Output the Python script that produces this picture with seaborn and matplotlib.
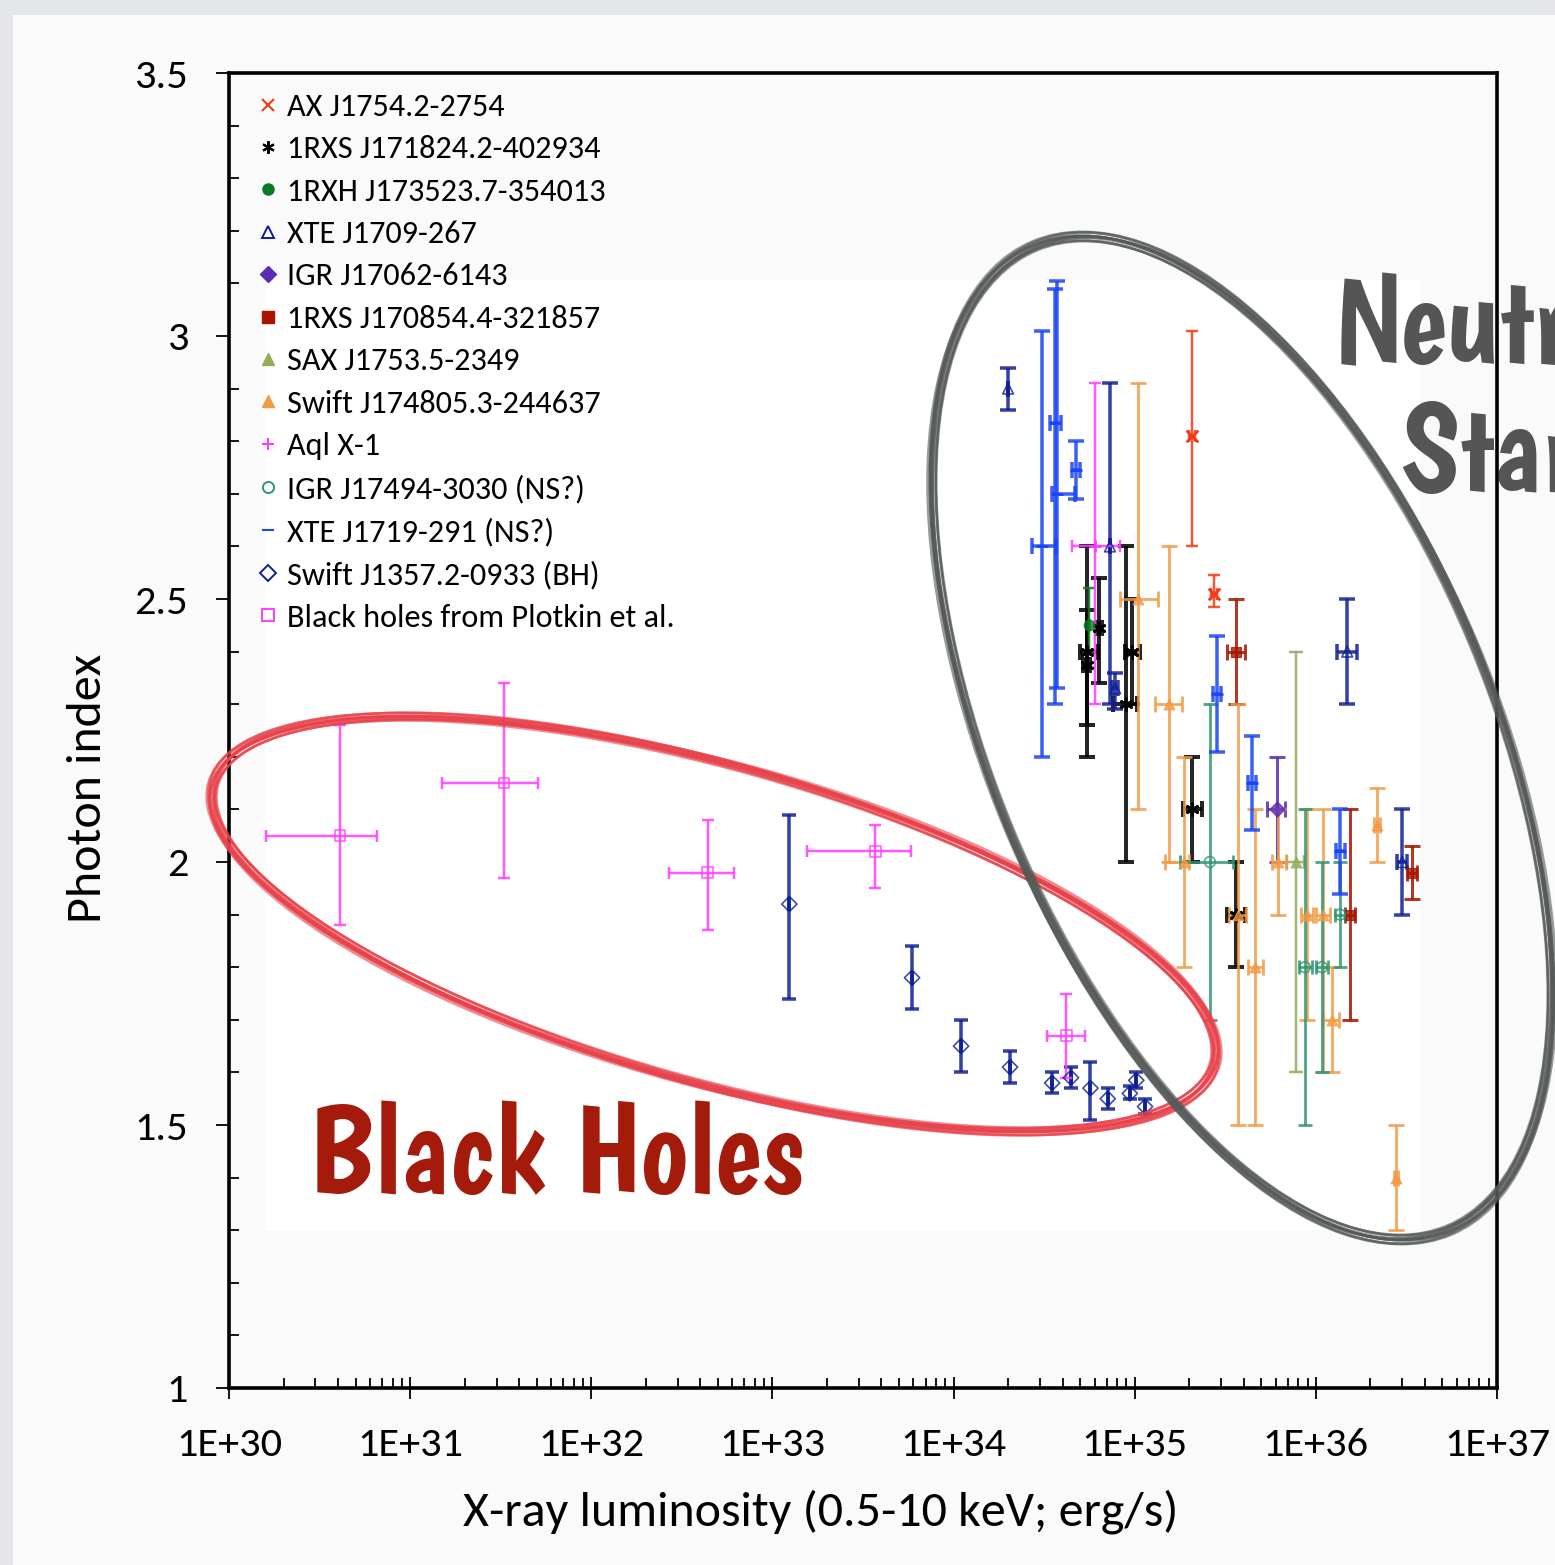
import numpy as np
import pandas as pd
import matplotlib
matplotlib.use("Agg")
import matplotlib.pyplot as plt
from matplotlib.patches import Ellipse, Rectangle
from matplotlib.transforms import IdentityTransform
from matplotlib.lines import Line2D
from matplotlib.ticker import FixedLocator, FixedFormatter, MultipleLocator, LogLocator, NullFormatter
import seaborn as sns

# Rows: (L, L_lo, L_hi, Gamma, Gamma_lo, Gamma_hi); L in erg/s (0.5-10 keV)
ax_j1754 = [
    (2.07e35, 2.00e35, 2.15e35, 2.81, 2.60, 3.01),
    (2.74e35, 2.65e35, 2.85e35, 2.51, 2.485, 2.545),
]
rxs_j171824 = [
    (5.46e34, 5.00e34, 6.30e34, 2.40, 2.20, 2.60),
    (5.46e34, 5.20e34, 5.70e34, 2.375, 2.26, 2.48),
    (6.35e34, 6.10e34, 6.60e34, 2.445, 2.34, 2.54),
    (8.95e34, 7.60e34, 1.03e35, 2.30, 2.00, 2.60),
    (9.66e34, 8.83e34, 1.07e35, 2.40, 2.30, 2.50),
    (2.07e35, 1.85e35, 2.35e35, 2.10, 2.00, 2.20),
    (3.62e35, 3.24e35, 4.06e35, 1.90, 1.80, 2.00),
]
rxh_j173523 = [
    (5.60e34, 5.60e34, 5.60e34, 2.45, 2.40, 2.52),
]
xte_j1709 = [
    (2.00e34, 2.00e34, 2.00e34, 2.90, 2.86, 2.94),
    (7.30e34, 7.30e34, 7.30e34, 2.60, 2.30, 2.91),
    (7.80e34, 7.50e34, 8.10e34, 2.33, 2.29, 2.36),
    (1.49e36, 1.31e36, 1.69e36, 2.40, 2.30, 2.50),
    (3.00e36, 2.80e36, 3.20e36, 2.00, 1.90, 2.10),
]
igr_j17062 = [
    (6.10e35, 5.37e35, 6.76e35, 2.10, 2.00, 2.20),
]
rxs_j170854 = [
    (3.62e35, 3.24e35, 4.06e35, 2.40, 2.30, 2.50),
    (1.54e36, 1.45e36, 1.65e36, 1.90, 1.70, 2.10),
    (3.40e36, 3.20e36, 3.60e36, 1.98, 1.93, 2.03),
]
sax_j1753 = [
    (7.76e35, 6.93e35, 8.61e35, 2.00, 1.60, 2.40),
]
swift_j174805 = [
    (1.04e35, 8.30e34, 1.35e35, 2.50, 2.10, 2.91),
    (1.55e35, 1.29e35, 1.82e35, 2.30, 2.00, 2.60),
    (1.87e35, 1.47e35, 2.00e35, 2.00, 1.80, 2.20),
    (3.70e35, 3.30e35, 4.10e35, 1.90, 1.50, 2.30),
    (4.60e35, 4.20e35, 5.10e35, 1.80, 1.50, 2.10),
    (6.20e35, 5.70e35, 6.80e35, 2.00, 1.90, 2.10),
    (8.90e35, 8.30e35, 9.60e35, 1.90, 1.70, 2.10),
    (1.10e36, 1.00e36, 1.20e36, 1.90, 1.60, 2.10),
    (1.23e36, 1.10e36, 1.35e36, 1.70, 1.60, 1.80),
    (2.18e36, 2.10e36, 2.26e36, 2.07, 2.00, 2.14),
    (2.77e36, 2.70e36, 2.85e36, 1.40, 1.30, 1.50),
]
aql_x1 = [
    (6.00e34, 4.50e34, 8.30e34, 2.60, 2.30, 2.91),
]
igr_j17494 = [
    (2.60e35, 1.78e35, 3.49e35, 2.00, 1.70, 2.30),
    (8.70e35, 8.10e35, 9.50e35, 1.80, 1.50, 2.10),
    (1.08e36, 1.00e36, 1.17e36, 1.80, 1.60, 2.00),
    (1.36e36, 1.28e36, 1.45e36, 1.90, 1.80, 2.00),
]
xte_j1719 = [
    (3.08e34, 2.70e34, 3.70e34, 2.60, 2.20, 3.01),
    (3.63e34, 3.40e34, 3.90e34, 2.835, 2.30, 3.09),
    (3.72e34, 3.50e34, 4.70e34, 2.70, 2.33, 3.105),
    (4.75e34, 4.50e34, 5.00e34, 2.745, 2.69, 2.80),
    (2.85e35, 2.70e35, 3.00e35, 2.32, 2.21, 2.43),
    (4.45e35, 4.20e35, 4.70e35, 2.15, 2.06, 2.24),
    (1.36e36, 1.30e36, 1.45e36, 2.02, 1.94, 2.10),
]
swift_j1357 = [
    (1.24e33, 1.24e33, 1.24e33, 1.92, 1.74, 2.09),
    (5.90e33, 5.90e33, 5.90e33, 1.78, 1.72, 1.84),
    (1.10e34, 1.10e34, 1.10e34, 1.65, 1.60, 1.70),
    (2.05e34, 2.05e34, 2.05e34, 1.61, 1.58, 1.64),
    (3.50e34, 3.50e34, 3.50e34, 1.58, 1.56, 1.60),
    (4.45e34, 4.45e34, 4.45e34, 1.59, 1.57, 1.61),
    (5.70e34, 5.70e34, 5.70e34, 1.57, 1.51, 1.62),
    (7.10e34, 7.10e34, 7.10e34, 1.55, 1.53, 1.57),
    (9.40e34, 9.40e34, 9.40e34, 1.56, 1.55, 1.575),
    (1.02e35, 1.02e35, 1.02e35, 1.585, 1.57, 1.60),
    (1.14e35, 1.14e35, 1.14e35, 1.535, 1.52, 1.55),
]
plotkin_bh = [
    (4.10e30, 1.60e30, 6.60e30, 2.05, 1.88, 2.26),
    (3.30e31, 1.50e31, 5.10e31, 2.15, 1.97, 2.34),
    (4.40e32, 2.70e32, 6.10e32, 1.98, 1.87, 2.08),
    (3.70e33, 1.55e33, 5.80e33, 2.02, 1.95, 2.07),
    (4.20e34, 3.30e34, 5.30e34, 1.67, 1.59, 1.75),
]

x_ticks = [1e30, 1e31, 1e32, 1e33, 1e34, 1e35, 1e36, 1e37]
x_tick_labels = ["1E+30", "1E+31", "1E+32", "1E+33", "1E+34", "1E+35", "1E+36", "1E+37"]
y_ticks = [1, 1.5, 2, 2.5, 3, 3.5]
y_tick_labels = ["1", "1.5", "2", "2.5", "3", "3.5"]

# name, rows, colour, marker, filled, line width (px), cap half-width (px)
sources = [
    ("AX J1754.2-2754", ax_j1754, "#f03c14", "x", True, 2.5, 6),
    ("1RXS J171824.2-402934", rxs_j171824, "#000000", (6, 2, 0), True, 4.0, 8),
    ("1RXH J173523.7-354013", rxh_j173523, "#0b7a22", "o", True, 2.5, 6),
    ("XTE J1709-267", xte_j1709, "#0f1f96", "^", False, 3.5, 8),
    ("IGR J17062-6143", igr_j17062, "#5a2bb3", "D", True, 3.0, 8),
    ("1RXS J170854.4-321857", rxs_j170854, "#a81400", "s", True, 3.0, 8),
    ("SAX J1753.5-2349", sax_j1753, "#92ad5c", "^", True, 2.5, 7),
    ("Swift J174805.3-244637", swift_j174805, "#f39a45", "^", True, 2.8, 8),
    ("Aql X-1", aql_x1, "#ff3dff", "+", True, 2.5, 6),
    ("IGR J17494-3030 (NS?)", igr_j17494, "#2c9673", "o", False, 2.8, 7),
    ("XTE J1719-291 (NS?)", xte_j1719, "#1a44f5", "_", True, 3.5, 8),
    ("Swift J1357.2-0933 (BH)", swift_j1357, "#0f1f96", "D", False, 3.5, 7),
    ("Black holes from Plotkin et al.", plotkin_bh, "#ff3dff", "s", False, 2.5, 6),
]

frames = []
for name, rows, *_ in sources:
    d = pd.DataFrame(rows, columns=["L", "L_lo", "L_hi", "G", "G_lo", "G_hi"])
    d["source"] = name
    frames.append(d)
data = pd.concat(frames, ignore_index=True)

sns.set_theme(style="ticks")
plt.rcParams["font.family"] = ["Carlito", "Lato", "DejaVu Sans"]
HAND = ["Boogaloo", "Oswald", "DejaVu Sans"]

W, H = 1555, 1565
PT = 72 / 100  # points per pixel at dpi 100
fig = plt.figure(figsize=(W / 100, H / 100), dpi=100, facecolor="#fafafa")

# slide frame and the white panel behind the data
fig.add_artist(Rectangle((0, H - 15), W, 15, transform=IdentityTransform(),
                         facecolor="#e4e6e9", edgecolor="none", zorder=-10))
fig.add_artist(Rectangle((0, 0), 13, H, transform=IdentityTransform(),
                         facecolor="#e4e6e9", edgecolor="none", zorder=-10))
fig.add_artist(Rectangle((265, H - 1230), 1420 - 265, 1230 - 280, transform=IdentityTransform(),
                         facecolor="white", edgecolor="none", zorder=-9))

ax = fig.add_axes([229 / W, (H - 1388) / H, 1268 / W, 1315 / H])
ax.set_facecolor("none")
ax.set_xscale("log")
ax.set_xlim(1e30, 1e37)
ax.set_ylim(1, 3.5)

for name, rows, color, marker, filled, lw, cap in sources:
    d = data[data["source"] == name]
    xerr = np.vstack([d["L"] - d["L_lo"], d["L_hi"] - d["L"]])
    yerr = np.vstack([d["G"] - d["G_lo"], d["G_hi"] - d["G"]])
    ax.errorbar(d["L"], d["G"], xerr=xerr, yerr=yerr, fmt="none", ecolor=color,
                elinewidth=lw * PT, capsize=cap * PT, capthick=lw * PT, alpha=0.85, zorder=3)
    if marker in ("x", "+", "_") or marker == (6, 2, 0):
        sns.scatterplot(data=d, x="L", y="G", marker=marker, color=color, s=70,
                        linewidth=2.0, ax=ax, legend=False, zorder=4)
    elif filled:
        sns.scatterplot(data=d, x="L", y="G", marker=marker, color=color, s=60,
                        edgecolor=color, linewidth=0.8, ax=ax, legend=False, zorder=4, alpha=0.8)
    else:
        sns.scatterplot(data=d, x="L", y="G", marker=marker, facecolor="none", edgecolor=color,
                        s=60, linewidth=1.2, ax=ax, legend=False, zorder=4, alpha=0.8)

# axes frame and ticks
for sp in ax.spines.values():
    sp.set_visible(True)
    sp.set_color("black")
    sp.set_linewidth(2.6)
ax.xaxis.set_major_locator(FixedLocator(x_ticks))
ax.xaxis.set_major_formatter(FixedFormatter(x_tick_labels))
ax.xaxis.set_minor_locator(LogLocator(base=10, subs=np.arange(2, 10)))
ax.xaxis.set_minor_formatter(NullFormatter())
ax.yaxis.set_major_locator(FixedLocator(y_ticks))
ax.yaxis.set_major_formatter(FixedFormatter(y_tick_labels))
ax.yaxis.set_minor_locator(MultipleLocator(0.1))
ax.tick_params(axis="x", which="major", direction="inout", length=22 * PT, width=1.3,
               labelsize=30.5, pad=20, colors="black", labelcolor="black")
ax.tick_params(axis="y", which="major", direction="out", length=13 * PT, width=1.3,
               labelsize=30.5, pad=20, colors="black", labelcolor="black")
ax.tick_params(which="minor", direction="in", length=10 * PT, width=1.3, colors="black")
ax.tick_params(top=False, right=False, which="both")

ax.set_xlabel("X-ray luminosity (0.5-10 keV; erg/s)", fontsize=36, color="black")
ax.set_ylabel("Photon index", fontsize=36, color="black")
ax.xaxis.set_label_coords((821 - 229) / 1268, (1388 - 1489) / 1315)
ax.yaxis.set_label_coords((109 - 229) / 1268, (1388 - 788) / 1315)

# legend
handles = []
for name, rows, color, marker, filled, lw, cap in sources:
    if marker in ("x", "+", "_") or marker == (6, 2, 0):
        h = Line2D([], [], linestyle="none", marker=marker, color=color, markersize=9,
                   markeredgewidth=1.5)
    elif filled:
        h = Line2D([], [], linestyle="none", marker=marker, color=color, markersize=8)
    else:
        h = Line2D([], [], linestyle="none", marker=marker, markerfacecolor="none",
                   markeredgecolor=color, markersize=8, markeredgewidth=1.4)
    handles.append(h)
leg = ax.legend(handles, [s[0] for s in sources], loc="upper left",
                bbox_to_anchor=(255, H - 93), bbox_transform=IdentityTransform(),
                frameon=False, fontsize=23.2, handlelength=0.8, handletextpad=0.2,
                labelspacing=0.446, borderpad=0, borderaxespad=0)
for t in leg.get_texts():
    t.set_color("black")

# hand-drawn group outlines: several overlapping thin strokes form a brushed band
def sketch(cx, cy, a, b, angle, color, zorder):
    offsets = [(-5, -4, 0.0), (-4, -1, 0.3), (-3, 1, 0.5), (-2, -3, -0.2), (-1, -2, -0.4),
               (0, 0, 0.0), (1, 2, 0.2), (2, -1, 0.3), (3, 2, -0.3), (4, 3, -0.2),
               (1, 4, 0.4), (-3, 3, -0.5), (5, 1, 0.1)]
    for da, db, dang in offsets:
        e = Ellipse((cx, H - cy), 2 * (a + da), 2 * (b + db), angle=angle + dang,
                    transform=IdentityTransform(), fill=False, edgecolor=color,
                    linewidth=1.8, alpha=0.6, zorder=zorder)
        fig.add_artist(e)

sketch(714, 924, 520, 158, -15.7, "#e8414a", 5)
sketch(1242, 738, 534, 250, -67.2, "#555a59", 6)

# group captions
fig.text(308 / W, (H - 1192) / H, "Black Holes", color="#a51b0b", fontsize=89,
         family=HAND, ha="left", va="baseline")
ax.text(1335, H - 362, "Neutron", transform=IdentityTransform(), color="#555555", fontsize=89,
        family=HAND, ha="left", va="baseline", clip_on=False, zorder=2)
ax.text(1400, H - 490, "Stars", transform=IdentityTransform(), color="#555555", fontsize=89,
        family=HAND, ha="left", va="baseline", clip_on=False, zorder=2)

fig.savefig("out.png", dpi=100, facecolor=fig.get_facecolor())
